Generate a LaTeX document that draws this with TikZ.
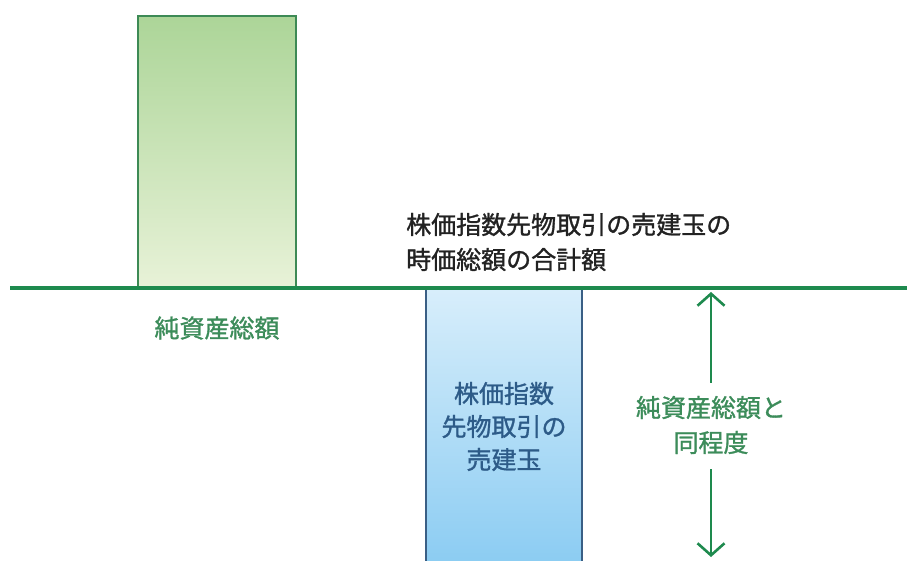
\documentclass[tikz,border=0pt]{standalone}
\usepackage{fontspec}
\newfontfamily\cjk[FakeBold=1.2]{Noto Sans CJK JP}
\usetikzlibrary{arrows.meta}
\definecolor{lineGreen}{HTML}{1E8A4E}
\definecolor{labGreen}{HTML}{3C8C5A}
\definecolor{gTop}{HTML}{ACD598}
\definecolor{gBot}{HTML}{E8F2D8}
\definecolor{gBorder}{HTML}{3D8A55}
\definecolor{bTop}{HTML}{D8EEFB}
\definecolor{bBot}{HTML}{8BCCF2}
\definecolor{bBorder}{HTML}{3A5F85}
\definecolor{bText}{HTML}{2D5B88}
\definecolor{blackText}{HTML}{222222}
\tikzset{
  txt/.style={font=\cjk\fontsize{25}{35}\selectfont, inner sep=0pt},
  greenbar/.style={draw=gBorder, line width=1.2pt, top color=gTop, bottom color=gBot, minimum width=158pt, minimum height=272pt, inner sep=0pt},
  bluebar/.style={draw=bBorder, line width=1.2pt, top color=bTop, bottom color=bBot, minimum width=156pt, minimum height=277pt, inner sep=0pt, align=center, font=\cjk\fontsize{25}{33}\selectfont, text=bText},
  dimarrow/.style={draw=lineGreen, line width=2.6pt, -{Straight Barb[length=12pt,width=27pt,line width=2.6pt]}}
}
\begin{document}
\begin{tikzpicture}[x=1pt,y=1pt]
\clip (0,0) rectangle (907,560);
\fill[white] (0,0) rectangle (907,560);
% bars
\node[greenbar] (gbar) at (217,408) {};
\node[bluebar] (bbar) at (504,133.5) {株価指数\\先物取引の\\売建玉};
% base line
\coordinate (lineL) at (10,272);
\coordinate (lineR) at (907,272);
\draw[lineGreen, line width=4.5pt] (lineL) -- (lineR);
% labels
\node[txt, text=labGreen, anchor=center] (glabel) at (217,232) {純資産総額};
\node[txt, text=blackText, anchor=west, align=left] (total) at (406,318) {株価指数先物取引の売建玉の\\時価総額の合計額};
\node[txt, text=labGreen, align=center] (same) at (711,135) {純資産総額と\\同程度};
% dimension arrows
\coordinate (topTip) at (711,268);
\coordinate (botTip) at (711,3);
\draw[dimarrow] ([yshift=13pt]same.north) -- (topTip);
\draw[dimarrow] ([yshift=-15pt]same.south) -- (botTip);
\end{tikzpicture}
\end{document}
